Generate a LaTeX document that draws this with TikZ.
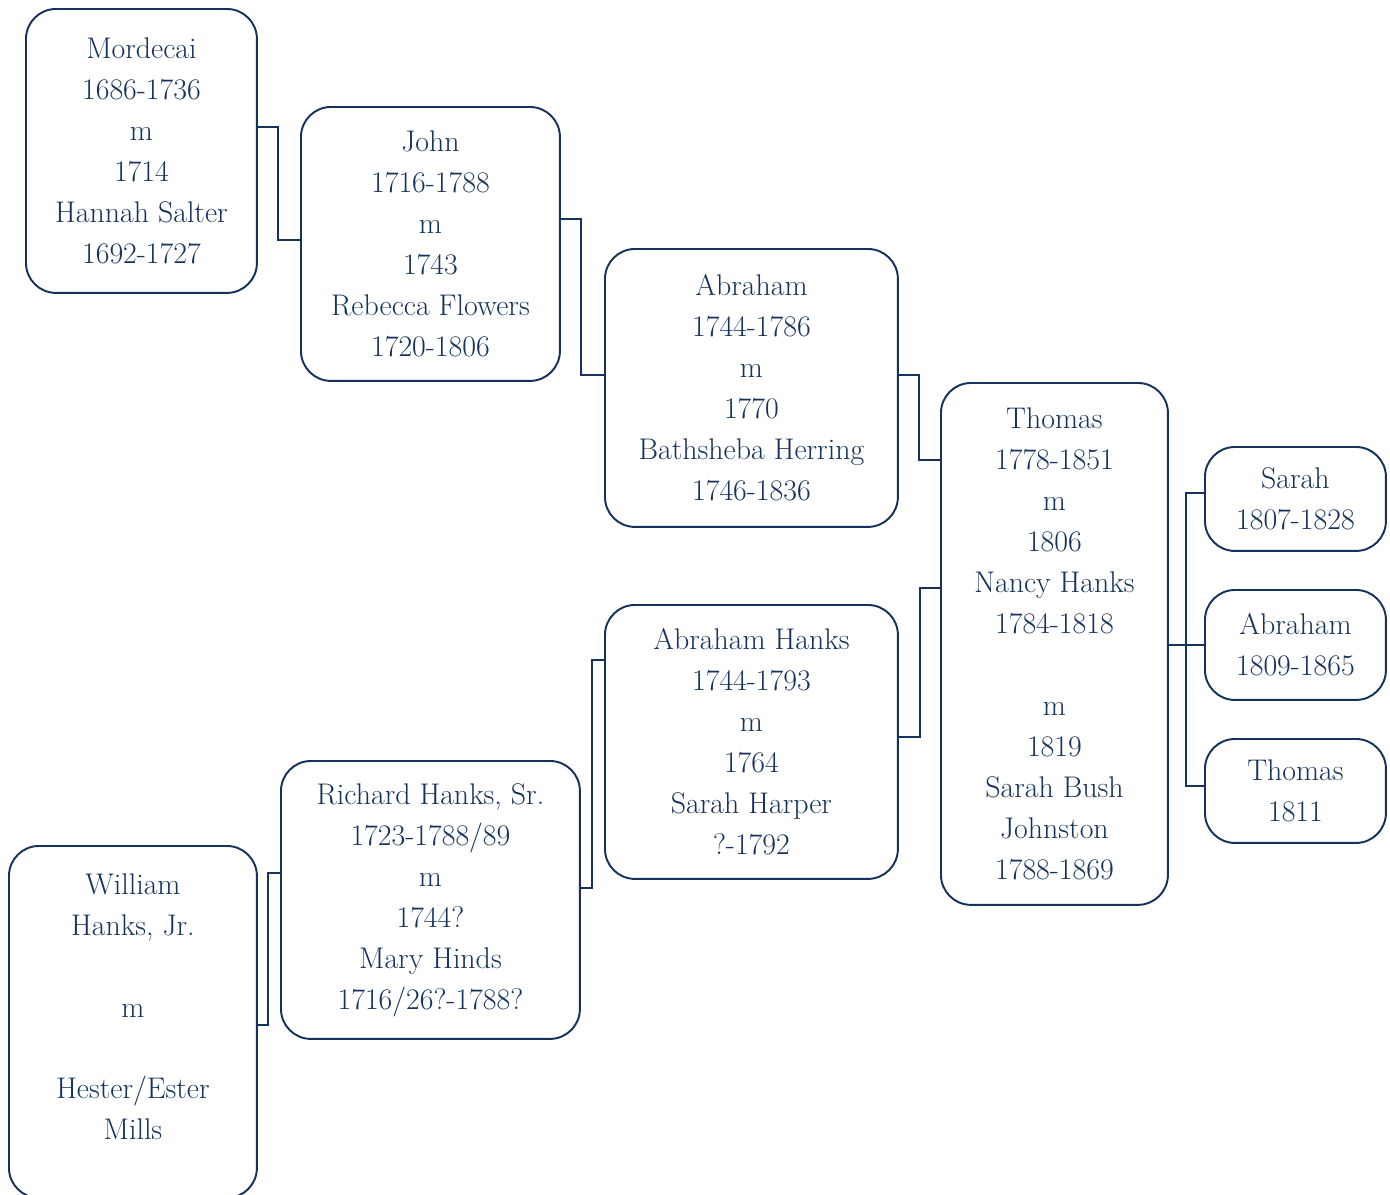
\documentclass[tikz,border=0pt]{standalone}
\usepackage{tikz}
\usetikzlibrary{calc}
\pgfdeclarelayer{bg}
\pgfsetlayers{bg,main}
\definecolor{navy}{RGB}{20,50,92}

\begin{document}
\begin{tikzpicture}[x=0.02cm, y=-0.02cm,
    card/.style={draw=navy, fill=white, line width=1.1pt, rounded corners=0.6cm,
        anchor=north west, align=center, text=navy,
        font=\fontsize{17}{23.3}\selectfont},
    link/.style={draw=navy, line width=1.1pt}]
    \useasboundingbox (0,0) rectangle (1390,1194);
    \node [card, minimum width=4.62cm, minimum height=5.68cm] (mordecai) at (25,8) { Mordecai\\1686-1736\\m\\1714\\Hannah Salter\\1692-1727 };
    \node [card, minimum width=5.18cm, minimum height=5.48cm] (john) at (300,106) { John\\1716-1788\\m\\1743\\Rebecca Flowers\\1720-1806 };
    \node [card, minimum width=5.86cm, minimum height=5.56cm] (abraham) at (604,248) { Abraham\\1744-1786\\m\\1770\\Bathsheba Herring\\1746-1836 };
    \node [card, minimum width=4.54cm, minimum height=10.44cm] (thomas) at (940,382) { Thomas\\1778-1851\\m\\1806\\Nancy Hanks\\1784-1818\\\mbox{}\\m\\1819\\Sarah Bush\\Johnston\\1788-1869 };
    \node [card, minimum width=3.62cm, minimum height=2.08cm] (sarah) at (1204,446) { Sarah\\1807-1828 };
    \node [card, minimum width=3.62cm, minimum height=2.2cm] (abrahamjr) at (1204,589) { Abraham\\1809-1865 };
    \node [card, minimum width=3.62cm, minimum height=2.08cm] (thomasjr) at (1204,738) { Thomas\\1811 };
    \node [card, minimum width=5.86cm, minimum height=5.48cm] (abrahamhanks) at (604,604) { Abraham Hanks\\1744-1793\\m\\1764\\Sarah Harper\\?-1792 };
    \node [card, minimum width=5.98cm, minimum height=5.56cm] (richard) at (280,760) { Richard Hanks, Sr.\\1723-1788/89\\m\\1744?\\Mary Hinds\\1716/26?-1788? };
    \node [card, minimum width=4.96cm, minimum height=7.04cm] (william) at (8,845) { William\\Hanks, Jr.\\\mbox{}\\m\\\mbox{}\\Hester/Ester\\Mills\\[-6pt]\mbox{} };

    \begin{pgfonlayer}{bg}    % connectors behind the cards
        \draw [link] (mordecai.east |- 0,127) -| (278,240) -- (john.west |- 0,240);
        \draw [link] (john.east |- 0,219) -| (581,375) -- (abraham.west |- 0,375);
        \draw [link] (abraham.east |- 0,375) -| (919,460) -- (thomas.west |- 0,460);
        \draw [link] (abrahamhanks.east |- 0,737) -| (920,588) -- (thomas.west |- 0,588);
        \draw [link] (richard.east |- 0,888) -| (592,660) -- (abrahamhanks.west |- 0,660);
        \draw [link] (william.east |- 0,1025) -| (268,873) -- (richard.west |- 0,873);
        \draw [link] (thomas.east |- abrahamjr.west) -- (abrahamjr.west);
        \draw [link] (sarah.west |- 0,493) -| (1186,786) -- (thomasjr.west |- 0,786);
    \end{pgfonlayer}
\end{tikzpicture}
\end{document}
